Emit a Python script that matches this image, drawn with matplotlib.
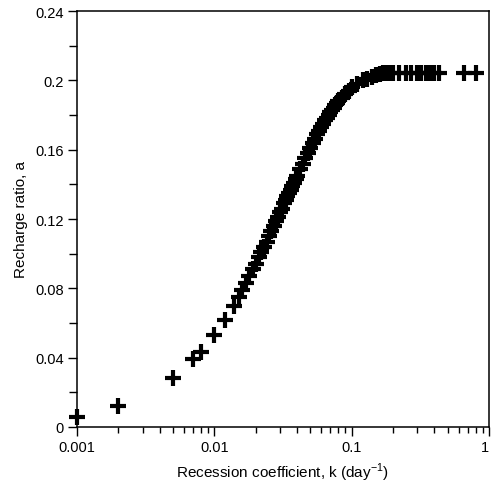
import matplotlib
matplotlib.use("Agg")
import matplotlib.pyplot as plt
from matplotlib.ticker import FixedLocator, FixedFormatter, NullFormatter, LogLocator
from matplotlib.transforms import ScaledTranslation

plt.rcParams['font.family'] = ['Liberation Sans', 'DejaVu Sans']

# Recession coefficient k (day^-1)
k_values = [0.001, 0.002, 0.005, 0.007, 0.008, 0.010, 0.012, 0.014,
            0.015, 0.016, 0.017, 0.018, 0.019, 0.020, 0.021, 0.022, 0.023, 0.024,
            0.025, 0.026, 0.027, 0.028, 0.029, 0.030, 0.031, 0.032, 0.033, 0.034,
            0.035, 0.036, 0.037, 0.038, 0.039, 0.040, 0.042, 0.044, 0.046, 0.048,
            0.050, 0.052, 0.054, 0.056, 0.058, 0.060, 0.062, 0.064, 0.066, 0.068,
            0.070, 0.072, 0.074, 0.076, 0.078, 0.080, 0.085, 0.090, 0.095, 0.100,
            0.11, 0.12, 0.13, 0.14, 0.15, 0.16, 0.17, 0.18, 0.19, 0.20,
            0.22, 0.25, 0.27, 0.30, 0.32, 0.35, 0.37, 0.40, 0.43,
            0.66, 0.80]

# Recharge ratio a
a_values = [0.006, 0.012, 0.028, 0.039, 0.043, 0.053, 0.062, 0.070,
            0.075, 0.079, 0.083, 0.087, 0.091, 0.094, 0.098, 0.101, 0.104, 0.107,
            0.110, 0.113, 0.116, 0.119, 0.121, 0.124, 0.126, 0.129, 0.131, 0.133,
            0.135, 0.137, 0.139, 0.141, 0.143, 0.145, 0.149, 0.152, 0.155, 0.158,
            0.161, 0.164, 0.166, 0.169, 0.171, 0.173, 0.175, 0.177, 0.178, 0.180,
            0.182, 0.183, 0.184, 0.186, 0.187, 0.188, 0.190, 0.192, 0.194, 0.196,
            0.198, 0.200, 0.201, 0.202, 0.203, 0.2035, 0.204, 0.204, 0.2045, 0.2045,
            0.2045, 0.2045, 0.2045, 0.2045, 0.2045, 0.2045, 0.2045, 0.2045, 0.2045,
            0.2045, 0.2045]

x_ticks = [0.001, 0.01, 0.1, 1]
x_ticklabels = ["0.001", "0.01", "0.1", "1"]
y_ticks = [0, 0.04, 0.08, 0.12, 0.16, 0.2, 0.24]
y_ticklabels = ["0", "0.04", "0.08", "0.12", "0.16", "0.2", "0.24"]
y_minor = [0.02, 0.06, 0.10, 0.14, 0.18, 0.22]

fig = plt.figure(figsize=(4.91, 4.85), dpi=100)
ax = fig.add_axes([77/491, (485-428)/485, (489-77)/491, (428-12)/485])

ax.plot(k_values, a_values, linestyle='none', marker='+', markersize=11,
        markeredgewidth=3.0, color='black', clip_on=False, zorder=3)

ax.set_xscale('log')
ax.set_xlim(0.001, 1)
ax.set_ylim(0, 0.24)

ax.xaxis.set_major_locator(FixedLocator(x_ticks))
ax.xaxis.set_major_formatter(FixedFormatter(x_ticklabels))
ax.xaxis.set_minor_locator(LogLocator(base=10, subs=range(2, 10), numticks=20))
ax.xaxis.set_minor_formatter(NullFormatter())

ax.yaxis.set_major_locator(FixedLocator(y_ticks))
ax.yaxis.set_major_formatter(FixedFormatter(y_ticklabels))
ax.yaxis.set_minor_locator(FixedLocator(y_minor))

ax.tick_params(which='both', direction='out', top=False, right=False,
               labelsize=10.5, width=1.0, color='black')
ax.tick_params(which='major', length=6.5, pad=3)
ax.tick_params(axis='x', which='minor', length=4.3)
ax.tick_params(axis='y', which='minor', length=6)

for s in ax.spines.values():
    s.set_linewidth(1.1)

fig.canvas.draw()
last = ax.get_xticklabels()[-1]
last.set_transform(last.get_transform() + ScaledTranslation(-4/100, 0, fig.dpi_scale_trans))

ax.set_xlabel("Recession coefficient, k (day$^{\\mathregular{-1}}$)", fontsize=11, labelpad=5)
ax.set_ylabel("Recharge ratio, a", fontsize=11, labelpad=5)

fig.savefig("out.png", dpi=100)
